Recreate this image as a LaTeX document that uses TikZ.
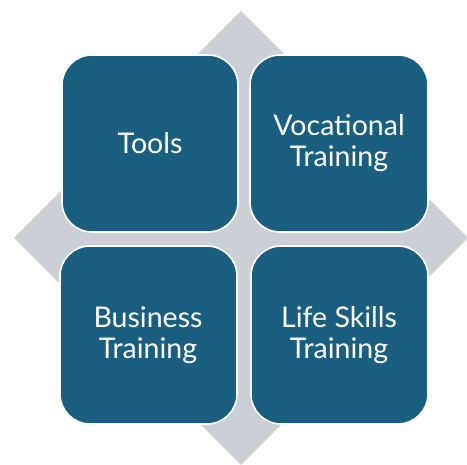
\documentclass[tikz,border=0pt]{standalone}
\usepackage{fontspec}
\setmainfont{Lato}
\definecolor{boxblue}{HTML}{1A5F7F}
\definecolor{diagray}{HTML}{CBD0D6}
\begin{document}
\begin{tikzpicture}[x=1pt,y=-1pt,
  tile/.style={draw=white, line width=1.6pt, fill=boxblue, rounded corners=30pt},
  lbl/.style={text=white, align=center, font=\fontsize{28.5}{31}\selectfont}]
\useasboundingbox (0,0) rectangle (467,465);
\begin{scope}
\clip (0,0) rectangle (467,465);
\fill[diagray] (241,11) -- (468,238) -- (241,465) -- (14,238) -- cycle;
\end{scope}
\path[tile] (62,55) rectangle (238,232);
\path[tile] (250,55) rectangle (428,232);
\path[tile] (60,246) rectangle (237,424);
\path[tile] (251,246) rectangle (428,424);
\node[lbl] (tools) at (150,143) {Tools};
\node[lbl] (voc) at (339,143) {Vocational\\Training};
\node[lbl] (bus) at (148,335) {Business\\Training};
\node[lbl] (life) at (339,335) {Life Skills\\Training};
\end{tikzpicture}
\end{document}
